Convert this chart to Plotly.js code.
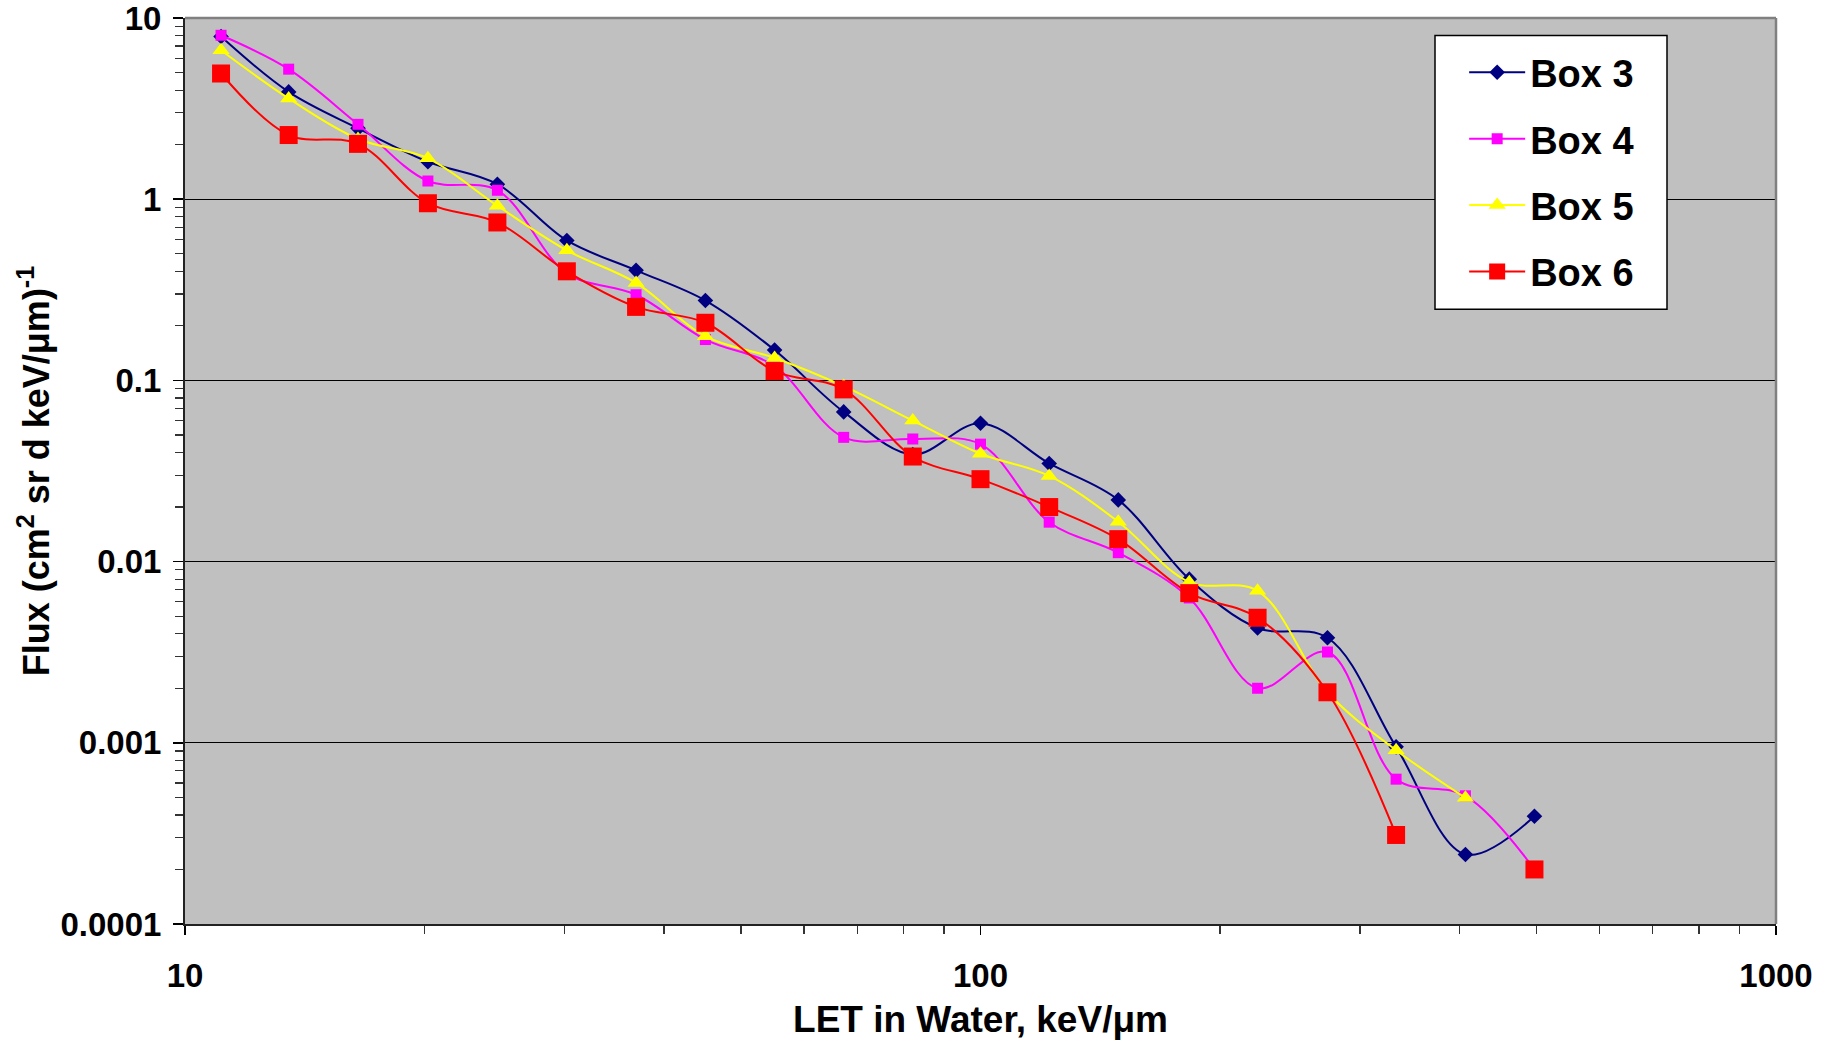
<!DOCTYPE html>
<html>
<head>
<meta charset="utf-8">
<script src="https://cdn.plot.ly/plotly-3.0.1.min.js"></script>
<style>
  html, body { margin: 0; padding: 0; background: #ffffff; }
  #chart { width: 1833px; height: 1046px; }
</style>
</head>
<body>
<div id="chart"></div>
<script>
// LET in water (keV/um) bin centres
const letValues = [11.1, 13.5, 16.5, 20.2, 24.7, 30.2, 36.9, 45.1, 55.1, 67.3, 82.2, 100, 122, 149, 183, 223, 273, 333, 407, 497];

// Flux (cm^2 sr d keV/um)^-1
const box3 = [7.9, 3.91, 2.46, 1.61, 1.21, 0.592, 0.405, 0.276, 0.147, 0.067, 0.039, 0.058, 0.0348, 0.0219, 0.0080, 0.0043, 0.0038, 0.00095, 0.000242, 0.000393];
const box4 = [8.03, 5.22, 2.59, 1.26, 1.12, 0.39, 0.297, 0.168, 0.12, 0.0485, 0.0475, 0.0445, 0.0165, 0.0112, 0.0063, 0.0020, 0.00317, 0.00063, 0.00051, 0.0002];
const box5 = [6.64, 3.60, 2.15, 1.68, 0.92, 0.522, 0.345, 0.175, 0.133, 0.093, 0.060, 0.0394, 0.0297, 0.0166, 0.0077, 0.0069, 0.0019, 0.00091, 0.000497, null];
const box6 = [4.94, 2.26, 2.02, 0.95, 0.744, 0.40, 0.2545, 0.208, 0.1125, 0.0892, 0.038, 0.0285, 0.0200, 0.0133, 0.0067, 0.0049, 0.0019, 0.00031, null, 0.0002];

const seriesNames = ["Box 3", "Box 4", "Box 5", "Box 6"];

const yTickVals = [0.0001, 0.001, 0.01, 0.1, 1, 10];
const yTickText = ["0.0001", "0.001", "0.01", "0.1", "1", "10"];
const xTickVals = [10, 100, 1000];
const xTickText = ["10", "100", "1000"];

const FONT = "Liberation Sans, Arial, sans-serif";

function mk(name, y, color, symbol, size, group) {
  return {
    type: "scatter",
    mode: "lines+markers",
    name: name,
    x: letValues,
    y: y,
    legendgroup: group,
    connectgaps: false,
    line: { color: color, width: 2, shape: "spline", smoothing: 1 },
    marker: { color: color, symbol: symbol, size: size, line: { width: 0 } }
  };
}

const traces = [
  mk(seriesNames[0], box3, "#000080", "diamond", 12, "g3"),
  mk(seriesNames[1], box4, "#FF00FF", "square", 11, "g4"),
  mk(seriesNames[2], box5, "#FFFF00", "triangle-up", 15, "g5"),
  mk(seriesNames[3], box6, "#FF0000", "square", 18, "g6")
];

const layout = {
  width: 1833,
  height: 1046,
  margin: { l: 185, r: 57, t: 18, b: 122, pad: 0 },
  paper_bgcolor: "#ffffff",
  plot_bgcolor: "#C0C0C0",
  font: { family: FONT, color: "#000000" },
  showlegend: true,
  legend: {
    x: 0.804, y: 0.9745, xanchor: "left", yanchor: "top",
    bgcolor: "rgba(0,0,0,0)",
    borderwidth: 0,
    font: { family: FONT, size: 38, weight: "bold", color: "#000" },
    traceorder: "grouped",
    tracegroupgap: 14,
    itemwidth: 56
  },
  xaxis: {
    type: "log",
    range: [1, 3],
    tickvals: xTickVals,
    ticktext: xTickText,
    ticks: "outside",
    ticklen: 9,
    tickwidth: 1.5,
    tickcolor: "#000",
    minor: { ticks: "outside", ticklen: 8, tickwidth: 1.2, tickcolor: "#333", dtick: "D1", showgrid: false },
    showgrid: false,
    zeroline: false,
    showline: true,
    linecolor: "#222",
    linewidth: 2,
    tickfont: { family: FONT, size: 33, weight: "bold", color: "#000" },
    ticklabelstandoff: 12,
    ticklabeloverflow: "allow",
    title: { text: "LET in Water, keV/μm", font: { family: FONT, size: 37, weight: "bold", color: "#000" }, standoff: 14 },
    automargin: false
  },
  yaxis: {
    type: "log",
    range: [-4, 1],
    tickvals: yTickVals,
    ticktext: yTickText,
    ticks: "outside",
    ticklen: 10,
    tickwidth: 1.5,
    tickcolor: "#000",
    minor: { ticks: "outside", ticklen: 8, tickwidth: 1.2, tickcolor: "#333", dtick: "D1", showgrid: false },
    showgrid: true,
    gridcolor: "#000000",
    gridwidth: 1,
    zeroline: false,
    showline: true,
    linecolor: "#222",
    linewidth: 2,
    tickfont: { family: FONT, size: 33, weight: "bold", color: "#000" },
    ticklabelstandoff: 5,
    ticklabeloverflow: "allow",
    title: { text: "Flux (cm<sup>2</sup> sr d keV/μm)<sup>-1</sup>", font: { family: FONT, size: 36, weight: "bold", color: "#000" }, standoff: 0 },
    automargin: false
  },
  shapes: [
    { type: "line", xref: "paper", yref: "paper", x0: 0, x1: 1, y0: 1, y1: 1, line: { color: "#808080", width: 2.5 } },
    { type: "line", xref: "paper", yref: "paper", x0: 1, x1: 1, y0: 0, y1: 1, line: { color: "#808080", width: 2.5 } },
    { type: "rect", xref: "paper", yref: "paper", layer: "above",
      x0: (1435 - 185) / 1591, x1: (1667 - 185) / 1591,
      y0: 1 - (309 - 17.5) / 906.5, y1: 1 - (35 - 17.5) / 906.5,
      fillcolor: "#ffffff", line: { color: "#000000", width: 1.5 } }
  ]
};

Plotly.newPlot("chart", traces, layout, { displayModeBar: false, staticPlot: true });
</script>
</body>
</html>
